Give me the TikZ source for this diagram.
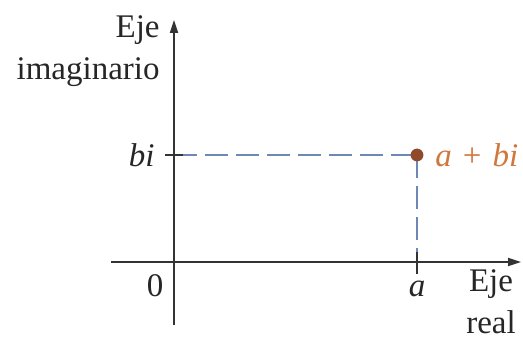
\documentclass[tikz,border=0pt]{standalone}
\usepackage{fontspec}
\setmainfont{Liberation Serif}
\usepackage{xcolor}
\definecolor{cdash}{HTML}{6F87B5}
\definecolor{cpoint}{HTML}{8E4A2A}
\definecolor{clabel}{HTML}{D0773C}
\definecolor{caxis}{HTML}{333333}
\usetikzlibrary{positioning,arrows.meta}

\begin{document}
\begin{tikzpicture}[x=0.5pt, y=-0.5pt, >={Triangle[length=6.5pt,width=4pt]},
  font=\fontsize{16.5}{21}\selectfont,
  axis/.style={draw=caxis, line width=0.9pt},
  guide/.style={draw=cdash, line width=1.4pt, dash pattern=on 11.5pt off 4pt},
  lbl/.style={inner sep=1pt, text=black!85}]
  \useasboundingbox (0,0) rectangle (523,340);
  % ejes
  \coordinate (origin) at (174,262);
  \coordinate (ytop) at (174,20);
  \coordinate (ybot) at (174,325);
  \coordinate (xleft) at (111,262);
  \coordinate (xright) at (521,262);
  \draw[axis,->] (ybot) -- (ytop);
  \draw[axis,->] (xleft) -- (xright);
  % punto a+bi
  \coordinate (P) at (417,155);
  \coordinate (Py) at (174,155);
  \coordinate (Px) at (417,262);
  \draw[guide] (Py) -- (P);
  \draw[guide] (P) -- (Px);
  \draw[axis] ([xshift=-4.5]Py) -- ([xshift=4.5]Py);
  \draw[axis] ([yshift=-6]Px) -- ([yshift=5]Px);
  \fill[cpoint] (P) circle (3.2pt);
  % etiquetas
  \node[lbl, align=right, anchor=base east] (ejeim) at (162,80) {Eje\\imaginario};
  \node[lbl, left=17 of Py] (bi) {\textit{bi}};
  \node[lbl, right=16 of P, text=clabel] (abi) {\textit{a}\hspace{5.5pt}+\hspace{5.5pt}\textit{bi}};
  \node[lbl, anchor=base] (cero) at (155,297) {0};
  \node[lbl, anchor=base] (a) at (417,297) {\textit{a}};
  \node[lbl, align=center, anchor=base] (ejere) at (491,334) {Eje\\real};
\end{tikzpicture}
\end{document}
